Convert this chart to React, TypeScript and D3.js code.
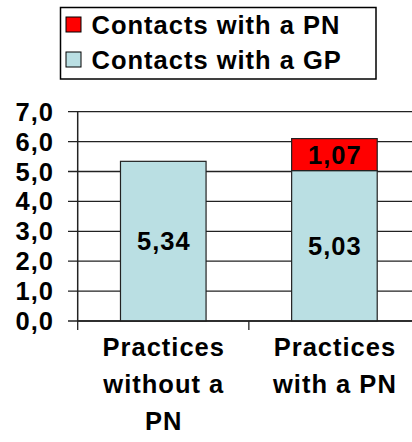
import React from "react";
import * as d3 from "d3";

const categories = ["Practices without a PN", "Practices with a PN"];
const categoryLines = [["Practices", "without a", "PN"], ["Practices", "with a PN"]];
const gpValues = [5.34, 5.03];
const pnValues = [0, 1.07];
const seriesNames = ["Contacts with a PN", "Contacts with a GP"];
const yTicks = [0, 1, 2, 3, 4, 5, 6, 7];

const W = 412;
const H = 442;
const FONT = "'Liberation Sans', Arial, sans-serif";
const FS = 25.5;
const LS = 1;
const GP_COLOR = "#BADFE3";
const PN_COLOR = "#FF0000";

export default function App() {
  const left = 77.7;
  const right = 420;
  const y = d3.scaleLinear().domain([0, 7]).range([321, 111.7]);
  const x = d3.scaleBand<string>().domain(categories).range([left, right]).paddingInner(0.5).paddingOuter(0.25);
  const xb = d3.scaleBand<string>().domain(categories).range([left, right]).padding(0);

  const rows = categories.map((c, i) => ({ cat: c, gp: gpValues[i], pn: pnValues[i] }));
  const stack = d3.stack<any>().keys(["gp", "pn"]);
  const series = stack(rows);
  const colors: Record<string, string> = { gp: GP_COLOR, pn: PN_COLOR };
  const fmt = (v: number, d: number) => v.toFixed(d).replace(".", ",");

  const boundaries = [...categories.map((c) => xb(c) as number), right];
  const textProps = { fontSize: FS, fontWeight: "bold", fill: "#000", letterSpacing: LS };

  return (
    <svg width={W} height={H} style={{ position: "absolute", left: 0, top: 0, background: "#fff" }} fontFamily={FONT}>
      {/* legend */}
      <rect x={60.5} y={7.5} width={315.5} height={71.5} fill="#fff" stroke="#000" strokeWidth={1.5} />
      {seriesNames.map((name, i) => {
        const cy = 24.5 + i * 35;
        return (
          <g key={name}>
            <rect x={66} y={cy - 7.5} width={15} height={15} fill={i === 0 ? PN_COLOR : GP_COLOR} stroke="#000" strokeWidth={1} />
            <text x={91.5} y={cy} dominantBaseline="central" {...textProps}>
              {name}
            </text>
          </g>
        );
      })}

      {/* gridlines & y ticks */}
      {yTicks.map((t) => (
        <g key={t}>
          <line x1={68} x2={W} y1={y(t)} y2={y(t)} stroke="#222" strokeWidth={1.3} />
          <text x={53 + LS} y={y(t)} textAnchor="end" dominantBaseline="central" {...textProps}>
            {fmt(t, 1)}
          </text>
        </g>
      ))}
      <line x1={left} x2={left} y1={y(7)} y2={y(0)} stroke="#222" strokeWidth={1.5} />

      {/* bars */}
      {series.map((s) =>
        s.map((d, i) => {
          const v = d[1] - d[0];
          if (v <= 0) return null;
          const cat = categories[i];
          return (
            <g key={s.key + i}>
              <rect
                x={x(cat)}
                y={y(d[1])}
                width={x.bandwidth()}
                height={y(d[0]) - y(d[1])}
                fill={colors[s.key]}
                stroke="#222"
                strokeWidth={1.2}
              />
              <text
                x={(x(cat) as number) + x.bandwidth() / 2 + LS / 2}
                y={(y(d[0]) + y(d[1])) / 2}
                textAnchor="middle"
                dominantBaseline="central"
                {...textProps}
              >
                {fmt(v, 2)}
              </text>
            </g>
          );
        })
      )}

      {/* x axis */}
      <line x1={left} x2={W} y1={y(0)} y2={y(0)} stroke="#222" strokeWidth={1.5} />
      {boundaries.map((b, i) => (
        <line key={i} x1={b} x2={b} y1={y(0)} y2={y(0) + 9} stroke="#222" strokeWidth={1.3} />
      ))}
      {categories.map((c, i) => (
        <text key={c} textAnchor="middle" {...textProps}>
          {categoryLines[i].map((line, j) => (
            <tspan key={j} x={(xb(c) as number) + xb.bandwidth() / 2 + LS / 2} y={356 + j * 37}>
              {line}
            </tspan>
          ))}
        </text>
      ))}
    </svg>
  );
}
